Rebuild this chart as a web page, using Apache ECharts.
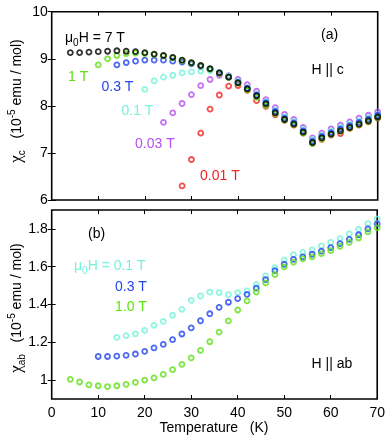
<!DOCTYPE html>
<html>
<head>
<meta charset="utf-8">
<script src="https://cdn.jsdelivr.net/npm/echarts@6/dist/echarts.min.js"></script>
<style>
html,body{margin:0;padding:0;background:#fff;}
#chart{width:388px;height:437px;}
</style>
</head>
<body>
<div id="chart"></div>
<script>
// ---------- DATA ----------
// Panel (a): chi_c vs T
const tA_7T = [4,6,8,10,12,14,16,18,20,22,24,26,28,30,32,34,36,38,40,42,44,46,48,50,52,54,56,58,60,62,64,66,68,70];
const chiA_7T = [9.13,9.13,9.14,9.15,9.16,9.17,9.16,9.15,9.13,9.10,9.07,9.03,8.97,8.92,8.86,8.79,8.70,8.61,8.49,8.36,8.21,8.04,7.85,7.71,7.61,7.44,7.22,7.32,7.40,7.47,7.54,7.61,7.68,7.76];
const tA_1T = [10,12,14,16,18,20,22,24,26,28,30,32,34,36,38,40,42,44,46,48,50,52,54,56,58,60,62,64,66,68,70];
const chiA_1T = [8.87,9.00,9.07,9.11,9.12,9.11,9.09,9.06,9.02,8.96,8.91,8.85,8.78,8.69,8.60,8.48,8.34,8.18,8.01,7.83,7.70,7.60,7.42,7.20,7.30,7.39,7.46,7.53,7.60,7.67,7.75];
const tA_03T = [14,16,18,20,22,24,26,28,30,32,34,36,38,40,42,44,46,48,50,52,54,56,58,60,62,64,66,68,70];
const chiA_03T = [8.87,8.92,8.95,8.97,8.97,8.97,8.95,8.93,8.89,8.84,8.78,8.70,8.61,8.50,8.37,8.23,8.07,7.88,7.74,7.64,7.47,7.25,7.35,7.43,7.51,7.58,7.65,7.72,7.80];
const tA_01T = [20,22,24,26,28,30,32,34,36,38,40,42,44,46,48,50,52,54,56,58,60,62,64,66,68,70];
const chiA_01T = [8.35,8.53,8.61,8.65,8.70,8.72,8.74,8.75,8.71,8.63,8.52,8.39,8.25,8.09,7.91,7.77,7.67,7.50,7.28,7.38,7.46,7.54,7.61,7.68,7.75,7.82];
const tA_003T = [24,26,28,30,32,34,36,38,40,42,44,46,48,50,52,54,56,58,60,62,64,66,68,70];
const chiA_003T = [7.65,7.85,8.05,8.24,8.43,8.56,8.65,8.64,8.56,8.45,8.31,8.13,7.96,7.82,7.71,7.54,7.32,7.42,7.51,7.59,7.66,7.74,7.80,7.87];
const tA_001T = [28,30,32,34,36,38,40,42,44,46,48,50,52,54,56,58,60,62,64,66,68,70];
const chiA_001T = [6.30,6.86,7.42,7.93,8.23,8.42,8.43,8.33,8.11,7.99,7.81,7.69,7.59,7.42,7.21,7.29,7.38,7.41,7.52,7.59,7.66,7.74];

// Panel (b): chi_ab vs T
const tB_01T = [14,16,18,20,22,24,26,28,30,32,34,36,38,40,42,44,46,48,50,52,54,56,58,60,62,64,66,68,70];
const chiB_01T = [1.226,1.235,1.245,1.263,1.290,1.311,1.343,1.374,1.422,1.445,1.466,1.463,1.452,1.463,1.472,1.505,1.551,1.595,1.636,1.664,1.676,1.689,1.710,1.729,1.749,1.774,1.798,1.828,1.853];
const tB_03T = [10,12,14,16,18,20,22,24,26,28,30,32,34,36,38,40,42,44,46,48,50,52,54,56,58,60,62,64,66,68,70];
const chiB_03T = [1.125,1.125,1.127,1.131,1.138,1.152,1.170,1.189,1.214,1.244,1.276,1.314,1.351,1.385,1.412,1.431,1.454,1.487,1.532,1.579,1.613,1.639,1.652,1.666,1.682,1.701,1.722,1.745,1.769,1.800,1.826];
const tB_1T = [4,6,8,10,12,14,16,18,20,22,24,26,28,30,32,34,36,38,40,42,44,46,48,50,52,54,56,58,60,62,64,66,68,70];
const chiB_1T = [1.004,0.990,0.975,0.970,0.966,0.970,0.977,0.988,1.000,1.012,1.030,1.055,1.083,1.118,1.157,1.203,1.254,1.313,1.371,1.419,1.466,1.514,1.558,1.599,1.624,1.641,1.652,1.669,1.685,1.708,1.729,1.752,1.784,1.805];

// Tick labels
const xTicks = [0,10,20,30,40,50,60,70];
const yTicksA = [6,7,8,9,10];
const yTicksB = [1,1.2,1.4,1.6,1.8];

// ---------- STYLE ----------
const FONT = 'Liberation Sans, Arial, Helvetica, sans-serif';
const C = {
  black:'#000000', green:'#5ee014', blue:'#2243ee', cyan:'#72f2da', purple:'#b450f0', red:'#f42020'
};

function pairs(t, v){ return t.map((x,i)=>[x, v[i]]); }

function sc(name, t, v, color, xi, yi){
  return {
    name, type:'scatter', xAxisIndex:xi, yAxisIndex:yi,
    data: pairs(t, v), symbol:'circle', symbolSize:5, clip:false,
    itemStyle:{color:'rgba(255,255,255,0)', borderColor:color, borderWidth:1.8},
    emphasis:{disabled:true}, silent:true
  };
}

const tickStyle = {show:true, inside:true, length:4, lineStyle:{color:'#000', width:1}};

function xAx(grid, pos, labels){
  return {
    type:'value', gridIndex:grid, position:pos, min:0, max:70, interval:10,
    axisLine:{show:false}, splitLine:{show:false},
    axisTick:Object.assign({}, tickStyle, {customValues:xTicks}),
    axisLabel:{show:labels, color:'#000', fontFamily:FONT, fontSize:14, margin:7, customValues:xTicks}
  };
}
function yAx(grid, pos, labels, mn, mx, ticks){
  return {
    type:'value', gridIndex:grid, position:pos, min:mn, max:mx,
    axisLine:{show:false}, splitLine:{show:false},
    axisTick:Object.assign({}, tickStyle, {customValues:ticks}),
    axisLabel:{show:labels, color:'#000', fontFamily:FONT, fontSize:14, margin:4, customValues:ticks}
  };
}

function txt(x, y, text, color, rich, align){
  return {
    type:'text', x, y, silent:true,
    style:{
      text, fill:color, font:'14px ' + FONT,
      textAlign: align || 'left', textVerticalAlign:'middle',
      align: align || 'left', verticalAlign:'middle',
      rich: rich
    }
  };
}
function richFor(color){
  return {
    n:{fontSize:14, fontFamily:FONT, color, lineHeight:20, verticalAlign:'middle'},
    sub:{fontSize:10, fontFamily:FONT, color, lineHeight:12, verticalAlign:'bottom'},
    sup:{fontSize:10, fontFamily:FONT, color, lineHeight:12, verticalAlign:'top'},
    chi:{fontSize:17, fontFamily:'Liberation Serif, serif', color, lineHeight:20, verticalAlign:'middle'}
  };
}
function rotTxt(x, y, text){
  return {
    type:'text', x, y, rotation:Math.PI/2, silent:true,
    style:{ text, fill:'#000', align:'center', verticalAlign:'middle',
      textAlign:'center', textVerticalAlign:'middle', rich:richFor('#000') }
  };
}

const chart = echarts.init(document.getElementById('chart'), null, {renderer:'canvas'});
chart.setOption({
  animation:false,
  backgroundColor:'#fff',
  grid:[
    {left:51.7, right:10.3, top:11.7, height:188.3, show:true, borderColor:'#000', borderWidth:1.6, backgroundColor:'rgba(0,0,0,0)'},
    {left:51.7, right:10.3, top:210, height:189, show:true, borderColor:'#000', borderWidth:1.6, backgroundColor:'rgba(0,0,0,0)'}
  ],
  xAxis:[ xAx(0,'bottom',false), xAx(0,'top',false), xAx(1,'bottom',true), xAx(1,'top',false) ],
  yAxis:[
    yAx(0,'left',true,6,10,yTicksA), yAx(0,'right',false,6,10,yTicksA),
    yAx(1,'left',true,0.9,1.9,yTicksB), yAx(1,'right',false,0.9,1.9,yTicksB)
  ],
  series:[
    sc('0.01 T', tA_001T, chiA_001T, C.red, 0, 0),
    sc('0.03 T', tA_003T, chiA_003T, C.purple, 0, 0),
    sc('0.1 T', tA_01T, chiA_01T, C.cyan, 0, 0),
    sc('0.3 T', tA_03T, chiA_03T, C.blue, 0, 0),
    sc('1 T', tA_1T, chiA_1T, C.green, 0, 0),
    sc('7 T', tA_7T, chiA_7T, C.black, 0, 0),
    sc('b 0.1 T', tB_01T, chiB_01T, C.cyan, 2, 2),
    sc('b 0.3 T', tB_03T, chiB_03T, C.blue, 2, 2),
    sc('b 1.0 T', tB_1T, chiB_1T, C.green, 2, 2)
  ],
  graphic:[
    txt(65, 38, '{n|μ}{sub|0}{n|H = 7 T}', C.black, richFor(C.black)),
    txt(68, 77, '1 T', C.green),
    txt(101.5, 87.5, '0.3 T', C.blue),
    txt(121.5, 111, '0.1 T', C.cyan),
    txt(135, 144, '0.03 T', C.purple),
    txt(200, 176.5, '0.01 T', C.red),
    txt(321, 35, '(a)', '#000'),
    txt(311.5, 70, 'H || c', '#000'),
    txt(88, 234, '(b)', '#000'),
    txt(74, 266, '{n|μ}{sub|0}{n|H = 0.1 T}', C.cyan, richFor(C.cyan)),
    txt(115, 287, '0.3 T', C.blue),
    txt(115, 307, '1.0 T', C.green),
    txt(311.5, 364, 'H || ab', '#000'),
    txt(214, 428, 'Temperature   (K)', '#000', null, 'center'),
    rotTxt(17, 101, '{chi|χ}{sub|c}{n|   (10}{sup|-5}{n| emu / mol)}'),
    rotTxt(17, 308, '{chi|χ}{sub|ab}{n|   (10}{sup|-5}{n| emu / mol)}')
  ]
});
</script>
</body>
</html>
